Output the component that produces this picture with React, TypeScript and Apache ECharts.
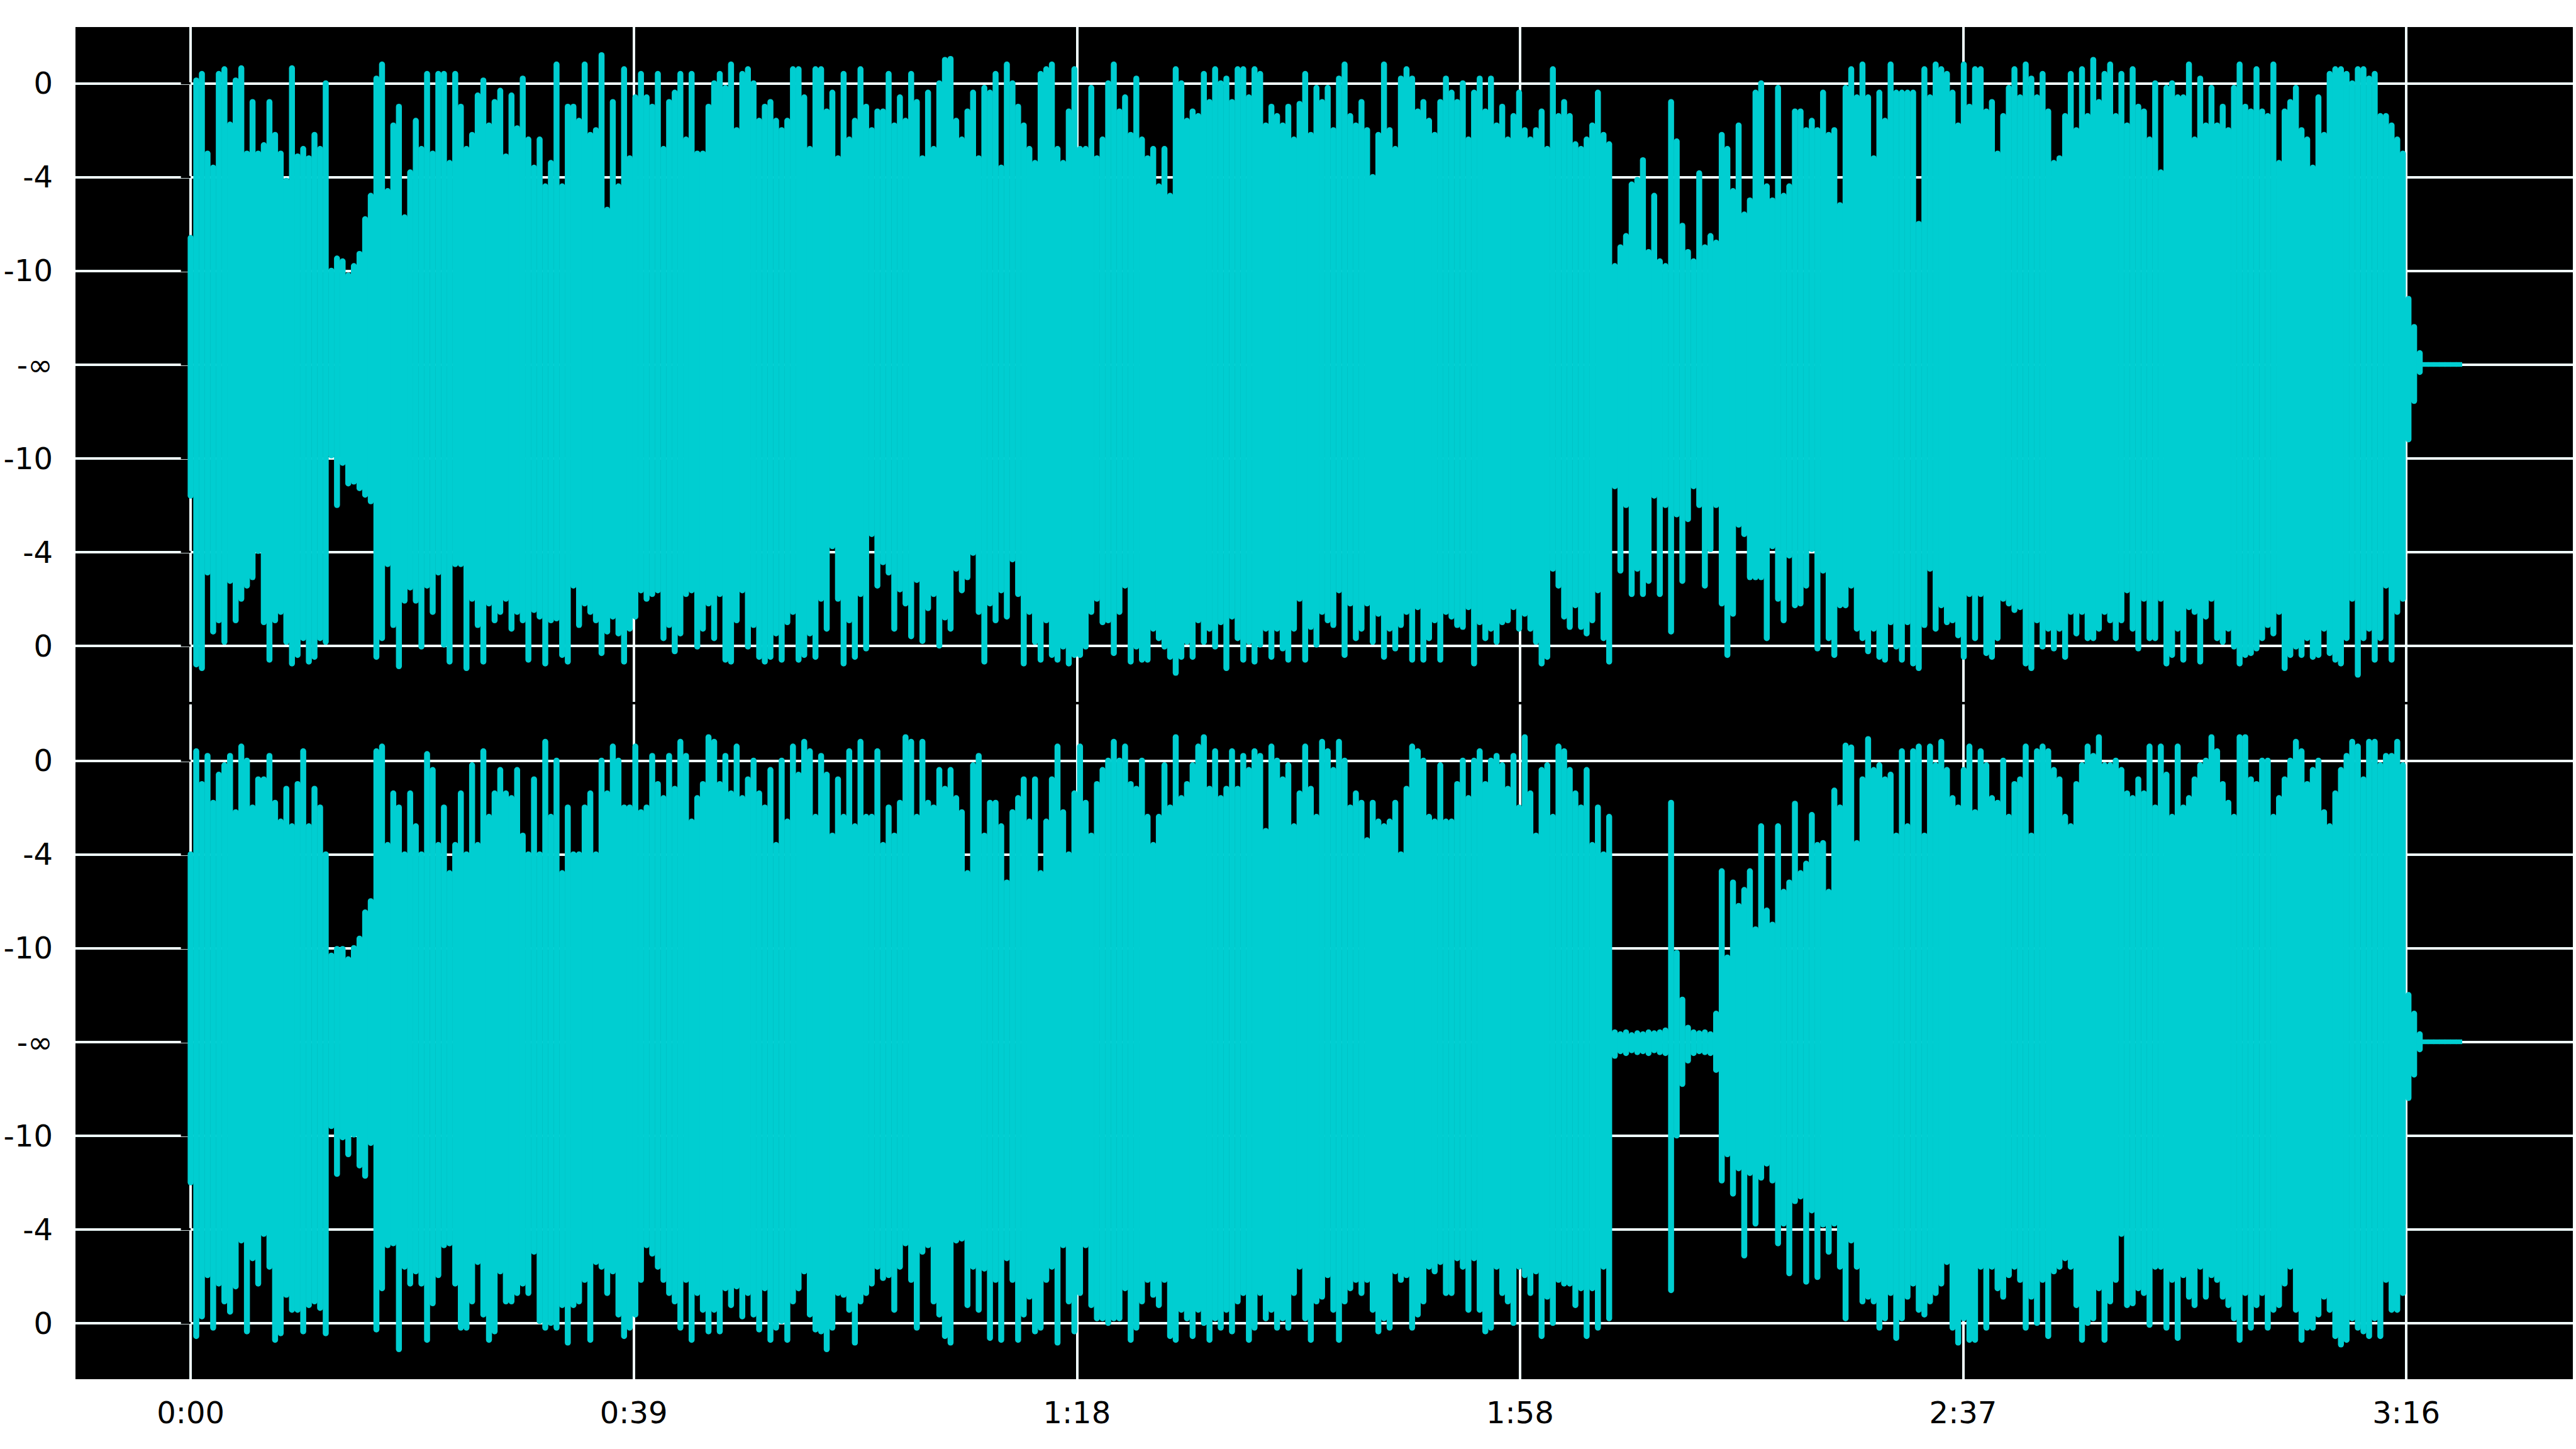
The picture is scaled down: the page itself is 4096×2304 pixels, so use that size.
import React, { useEffect, useRef } from "react";
import * as echarts from "echarts";

// Waveform envelope samples, one every SAMPLE_STEP seconds (values in the
// dB-scaled display units: 3 = "0", 2 = "-4", 1 = "-10", 0 = "-∞").
const SAMPLE_STEP = 0.5;

const CH1_TOP = [
  1.35, 3.03, 3.10, 2.25, 2.10, 3.10, 3.15, 2.56, 3.03, 3.16,
  2.25, 2.80, 2.25, 2.34, 2.80, 2.45, 2.25, 1.96, 3.16, 2.22,
  2.30, 2.20, 2.45, 2.30, 3.00, 1.00, 1.13, 1.10, 0.95, 1.05,
  1.18, 1.55, 1.80, 3.05, 3.20, 1.85, 2.55, 2.75, 1.57, 2.05,
  2.60, 2.30, 3.10, 2.25, 3.10, 3.10, 2.15, 3.10, 2.75, 2.30,
  2.45, 2.87, 3.03, 2.55, 2.80, 2.92, 2.22, 2.87, 2.52, 3.05,
  2.40, 2.10, 2.40, 1.90, 2.15, 3.20, 1.90, 2.75, 2.75, 2.60,
  3.20, 2.45, 2.50, 3.30, 1.65, 2.80, 1.90, 3.15, 2.20, 2.85,
  3.10, 2.85, 2.75, 3.10, 2.30, 2.80, 2.90, 3.10, 2.40, 3.10,
  2.25, 2.25, 2.75, 3.00, 3.10, 2.95, 3.20, 2.50, 3.10, 3.15,
  3.00, 2.60, 2.75, 2.80, 2.60, 2.50, 2.60, 3.15, 3.15, 2.85,
  2.30, 3.15, 3.15, 2.70, 2.90, 2.20, 3.10, 2.40, 2.60, 3.15,
  2.75, 2.50, 2.70, 2.70, 3.10, 2.55, 2.85, 2.60, 3.10, 2.80,
  2.20, 2.90, 2.30, 3.00, 3.25, 3.26, 2.60, 2.40, 2.70, 2.90,
  2.20, 2.95, 2.90, 3.10, 2.10, 3.20, 3.00, 2.75, 2.55, 2.30,
  2.15, 3.10, 3.15, 3.20, 2.30, 2.15, 2.70, 3.15, 2.30, 2.30,
  2.95, 2.20, 2.40, 3.00, 3.20, 2.70, 2.85, 2.45, 3.05, 2.40,
  2.20, 2.30, 1.90, 2.30, 1.80, 3.15, 3.00, 2.60, 2.70, 2.65,
  3.10, 2.80, 3.15, 3.00, 3.05, 2.80, 3.15, 3.15, 2.85, 3.15,
  3.10, 2.55, 2.75, 2.65, 2.55, 2.75, 2.40, 2.78, 3.10, 2.45,
  2.95, 2.80, 2.95, 2.50, 3.05, 3.20, 2.65, 2.55, 2.80, 2.50,
  2.00, 2.45, 3.20, 2.50, 2.30, 3.05, 3.15, 3.05, 2.70, 2.80,
  2.60, 2.45, 2.80, 3.05, 2.90, 2.80, 3.00, 2.40, 2.90, 3.05,
  2.70, 3.05, 2.55, 2.75, 2.40, 2.65, 2.90, 2.50, 2.40, 2.50,
  2.70, 2.30, 3.15, 2.65, 2.80, 2.65, 2.35, 2.30, 2.40, 2.55,
  2.90, 2.45, 2.35, 1.05, 1.25, 1.37, 1.92, 1.97, 2.18, 1.20,
  1.80, 1.10, 1.05, 2.80, 2.38, 1.48, 1.20, 1.10, 2.04, 1.25,
  1.37, 1.30, 2.45, 2.30, 1.85, 2.55, 1.60, 1.75, 2.90, 3.00,
  1.90, 1.75, 2.95, 1.80, 1.90, 2.70, 2.70, 2.50, 2.60, 2.50,
  2.90, 2.45, 2.50, 1.70, 2.95, 3.15, 2.85, 3.20, 2.85, 2.20,
  2.90, 2.60, 3.20, 2.90, 2.90, 2.90, 2.90, 1.50, 3.15, 2.85,
  3.20, 3.15, 3.10, 2.90, 2.55, 3.20, 2.75, 3.15, 3.15, 2.70,
  2.80, 2.25, 2.65, 2.95, 3.15, 2.85, 3.20, 3.05, 2.85, 3.10,
  2.70, 2.15, 2.20, 2.65, 3.10, 2.50, 3.15, 2.65, 3.25, 2.80,
  3.10, 3.20, 2.65, 3.10, 2.55, 3.15, 2.75, 2.70, 2.40, 3.00,
  2.05, 2.95, 3.00, 2.85, 2.85, 3.20, 2.40, 3.05, 2.55, 2.95,
  2.55, 2.75, 2.50, 2.95, 3.20, 2.75, 2.70, 3.15, 2.70, 2.65,
  3.20, 2.15, 2.70, 2.80, 2.95, 2.50, 2.40, 2.10, 2.85, 2.45,
  3.10, 3.15, 3.15, 3.10, 3.00, 3.15, 3.15, 3.05, 3.10, 2.65,
  2.65, 2.55, 2.40, 2.25, 0.70, 0.40, 0.12, 0.025, 0.025, 0.025,
  0.025, 0.025, 0.025, 0.025,
];

const CH1_BOT = [
  -1.40, -3.20, -3.24, -2.22, -2.85, -2.73, -2.96, -2.31, -2.73, -2.50,
  -2.36, -2.27, -1.99, -2.75, -3.15, -2.73, -2.64, -2.96, -3.19, -3.10,
  -2.92, -3.17, -3.12, -2.92, -2.96, -0.97, -1.50, -1.05, -1.27, -1.25,
  -1.32, -1.39, -1.46, -3.12, -2.92, -2.13, -2.78, -3.22, -2.52, -2.38,
  -2.52, -3.01, -2.36, -2.64, -2.22, -2.99, -3.17, -2.13, -2.13, -3.24,
  -2.50, -2.78, -3.17, -2.55, -2.73, -2.64, -2.50, -2.82, -2.64, -2.73,
  -3.15, -2.62, -2.69, -3.19, -2.73, -2.71, -3.10, -3.17, -2.36, -2.78,
  -2.55, -2.64, -2.73, -3.08, -2.85, -2.69, -2.87, -3.17, -2.82, -2.69,
  -2.41, -2.50, -2.45, -2.41, -2.92, -2.78, -3.06, -2.87, -2.45, -2.41,
  -3.01, -2.82, -2.55, -2.92, -2.45, -3.15, -3.17, -2.73, -2.41, -3.01,
  -2.78, -3.12, -3.17, -3.12, -2.87, -3.15, -2.75, -2.64, -3.15, -3.10,
  -2.87, -3.12, -2.50, -2.82, -1.94, -2.50, -3.19, -2.73, -3.12, -2.45,
  -3.03, -1.81, -2.36, -2.11, -2.22, -2.82, -2.40, -2.55, -2.90, -2.30,
  -2.95, -2.60, -2.45, -3.00, -2.70, -2.82, -2.18, -2.41, -2.27, -2.01,
  -2.64, -3.17, -2.55, -2.73, -2.41, -2.69, -2.08, -2.45, -3.19, -2.64,
  -2.96, -3.15, -2.73, -3.10, -3.15, -3.01, -3.19, -3.10, -3.10, -3.01,
  -2.64, -2.50, -2.75, -2.73, -3.08, -2.64, -2.36, -3.17, -3.01, -3.15,
  -3.15, -2.82, -2.92, -3.01, -3.12, -3.29, -3.12, -2.96, -3.12, -2.73,
  -2.96, -2.82, -3.01, -2.75, -3.24, -2.69, -2.92, -3.15, -2.96, -3.17,
  -2.99, -2.82, -3.12, -2.82, -3.03, -3.15, -2.82, -2.50, -3.15, -2.80,
  -2.99, -2.64, -2.73, -2.78, -2.41, -3.10, -2.55, -2.92, -2.82, -2.55,
  -2.96, -2.66, -3.12, -2.82, -3.03, -2.78, -2.64, -3.15, -2.59, -3.15,
  -2.92, -2.73, -3.15, -2.64, -2.69, -2.78, -2.80, -2.59, -3.19, -2.75,
  -2.92, -2.82, -2.96, -2.75, -2.73, -2.59, -2.82, -2.66, -2.82, -2.96,
  -3.19, -3.12, -2.18, -2.36, -2.69, -2.80, -2.57, -2.80, -2.87, -2.73,
  -2.41, -2.92, -3.17, -1.30, -2.20, -1.50, -2.45, -2.18, -2.45, -2.31,
  -1.40, -2.45, -1.50, -2.85, -1.60, -2.31, -1.65, -1.30, -1.50, -2.36,
  -1.97, -1.50, -2.55, -3.10, -2.66, -1.71, -1.81, -2.27, -2.27, -2.27,
  -2.92, -1.94, -2.50, -2.73, -2.04, -2.57, -2.55, -2.36, -1.97, -3.03,
  -2.20, -2.92, -3.10, -2.57, -2.57, -2.36, -2.82, -2.92, -3.06, -2.82,
  -3.12, -3.15, -2.75, -3.01, -3.15, -2.75, -3.19, -3.24, -2.78, -2.18,
  -2.82, -2.57, -2.75, -2.73, -2.89, -3.12, -2.45, -2.92, -2.45, -3.08,
  -3.12, -2.92, -2.50, -2.55, -2.62, -2.59, -3.19, -3.24, -2.73, -3.01,
  -2.82, -3.03, -2.82, -3.12, -2.64, -2.87, -2.64, -2.92, -2.92, -2.82,
  -2.64, -2.73, -2.92, -2.73, -2.41, -2.82, -3.03, -2.50, -2.92, -2.92,
  -2.50, -3.19, -3.10, -2.82, -3.15, -2.59, -2.64, -3.17, -2.69, -2.50,
  -2.92, -2.96, -2.82, -3.01, -3.19, -3.10, -3.08, -3.03, -2.92, -2.78,
  -2.87, -2.64, -3.24, -3.10, -3.01, -3.10, -2.92, -3.12, -3.10, -2.82,
  -3.08, -3.15, -3.19, -2.92, -2.50, -3.31, -2.92, -2.82, -3.15, -2.92,
  -2.36, -3.15, -2.64, -2.50, -0.80, -0.39, -0.08, -0.025, -0.025, -0.025,
  -0.025, -0.025, -0.025, -0.025,
];

const CH2_TOP = [
  2.00, 3.10, 2.75, 3.05, 2.55, 2.85, 2.95, 3.05, 2.45, 3.15,
  3.00, 2.50, 2.80, 2.80, 3.05, 2.55, 2.35, 2.70, 2.30, 2.75,
  3.10, 2.30, 2.70, 2.50, 2.00, 0.92, 0.99, 0.99, 0.88, 1.00,
  1.10, 1.38, 1.50, 3.10, 3.15, 2.10, 2.65, 2.50, 2.00, 2.65,
  2.30, 2.00, 3.07, 2.90, 2.10, 2.50, 1.80, 2.10, 2.65, 2.00,
  2.95, 2.10, 3.10, 2.40, 2.65, 2.90, 2.65, 2.60, 2.90, 2.20,
  2.00, 2.80, 2.00, 3.20, 2.40, 3.00, 1.80, 2.50, 2.00, 2.00,
  2.50, 2.65, 2.00, 3.00, 2.65, 3.15, 3.00, 2.50, 2.50, 3.15,
  2.45, 2.50, 3.05, 2.75, 2.60, 3.05, 2.70, 3.20, 3.05, 2.35,
  2.60, 2.75, 3.25, 3.20, 2.75, 3.05, 2.65, 3.15, 2.60, 2.80,
  3.00, 2.65, 2.50, 2.90, 2.10, 3.00, 2.35, 3.15, 2.85, 3.20,
  3.10, 2.40, 3.05, 2.85, 2.20, 2.80, 2.40, 3.10, 2.30, 3.20,
  2.40, 2.40, 3.10, 2.10, 2.50, 2.20, 2.55, 3.25, 3.20, 2.40,
  3.20, 2.55, 2.50, 2.90, 2.70, 2.90, 2.60, 2.45, 1.80, 2.95,
  3.05, 2.20, 2.55, 2.55, 2.30, 1.70, 2.45, 2.60, 2.80, 2.35,
  2.80, 1.80, 2.35, 2.80, 3.15, 2.45, 2.00, 2.65, 3.15, 2.55,
  2.20, 2.75, 2.90, 3.00, 3.20, 3.00, 3.15, 2.75, 2.70, 3.00,
  2.40, 2.10, 2.40, 2.95, 2.50, 3.25, 2.60, 2.75, 2.95, 3.15,
  3.25, 2.70, 3.10, 2.60, 2.70, 3.10, 2.70, 3.05, 2.90, 3.10,
  3.05, 2.25, 3.15, 3.00, 2.80, 2.95, 2.30, 2.65, 3.15, 2.70,
  2.40, 3.20, 3.10, 2.90, 3.20, 3.00, 2.50, 2.65, 2.55, 2.15,
  2.55, 2.35, 2.30, 2.35, 2.55, 2.00, 2.70, 3.15, 3.10, 3.00,
  2.40, 2.35, 2.95, 2.35, 2.35, 2.75, 3.00, 2.60, 3.00, 3.10,
  2.75, 3.00, 3.05, 2.95, 2.70, 3.05, 2.50, 3.25, 2.65, 2.20,
  2.90, 2.95, 2.40, 3.15, 3.10, 2.90, 2.65, 2.50, 2.90, 2.10,
  2.50, 2.00, 2.40, 0.10, 0.08, 0.10, 0.07, 0.09, 0.08, 0.10,
  0.09, 0.10, 0.12, 2.55, 0.95, 0.45, 0.15, 0.10, 0.09, 0.10,
  0.08, 0.30, 1.82, 0.90, 1.70, 1.45, 1.62, 1.82, 1.20, 2.30,
  1.40, 1.25, 2.30, 1.60, 1.70, 2.54, 1.80, 1.90, 2.42, 2.10,
  2.12, 1.60, 2.68, 2.50, 3.16, 3.14, 2.12, 2.80, 3.23, 2.90,
  2.95, 2.80, 2.85, 2.20, 3.10, 2.30, 3.10, 3.15, 2.20, 3.15,
  2.95, 3.20, 2.90, 2.60, 2.50, 2.90, 3.15, 2.45, 3.10, 2.95,
  2.60, 2.55, 3.00, 2.40, 2.75, 2.80, 3.15, 2.20, 3.10, 3.15,
  3.10, 2.90, 2.80, 2.40, 2.30, 2.75, 2.95, 3.15, 3.05, 3.25,
  2.95, 2.95, 3.00, 2.90, 2.65, 2.60, 2.80, 2.65, 3.15, 2.50,
  3.15, 2.85, 2.40, 3.15, 2.50, 2.60, 2.80, 2.95, 3.00, 3.25,
  3.10, 2.75, 2.55, 2.40, 3.25, 3.25, 2.80, 2.75, 3.00, 3.00,
  2.40, 2.60, 2.80, 3.00, 3.20, 3.10, 2.75, 2.90, 3.00, 2.45,
  2.30, 2.65, 2.90, 3.05, 3.20, 3.15, 2.80, 3.20, 3.20, 2.95,
  3.05, 3.05, 3.20, 2.95, 0.50, 0.30, 0.08, 0.025, 0.025, 0.025,
  0.025, 0.025, 0.025, 0.025,
];

const CH2_BOT = [
  -1.50, -3.14, -2.93, -2.49, -3.05, -2.58, -2.77, -2.88, -2.61, -2.12,
  -3.09, -2.31, -2.58, -2.05, -2.40, -3.18, -3.11, -2.70, -2.86, -2.86,
  -3.09, -2.81, -2.77, -2.84, -3.11, -0.90, -1.41, -1.02, -1.20, -0.99,
  -1.32, -1.43, -1.08, -3.07, -2.63, -2.17, -2.15, -3.28, -2.40, -2.58,
  -2.45, -2.58, -3.18, -2.79, -2.49, -2.17, -2.15, -2.58, -3.05, -3.05,
  -2.77, -2.35, -2.91, -3.18, -3.09, -2.45, -2.77, -2.77, -2.68, -2.58,
  -2.68, -2.24, -2.98, -3.05, -3.00, -3.05, -2.81, -3.21, -2.81, -2.77,
  -2.54, -3.18, -2.35, -2.40, -2.68, -2.45, -2.91, -3.14, -3.05, -2.91,
  -2.54, -2.17, -2.26, -2.40, -2.54, -2.68, -2.77, -3.05, -2.54, -3.18,
  -2.68, -2.86, -3.09, -2.86, -3.09, -2.63, -2.81, -2.61, -2.93, -2.68,
  -2.91, -3.07, -2.63, -3.18, -3.05, -2.98, -3.18, -2.77, -2.63, -2.45,
  -2.91, -3.07, -3.09, -3.28, -3.05, -2.68, -2.70, -2.86, -3.21, -2.77,
  -2.68, -2.58, -2.40, -2.52, -2.49, -2.86, -2.40, -2.15, -2.54, -3.05,
  -2.24, -2.17, -2.77, -2.91, -3.14, -3.21, -2.12, -2.10, -2.81, -2.40,
  -2.86, -2.42, -3.16, -2.54, -3.18, -2.31, -2.54, -3.18, -2.91, -2.72,
  -3.09, -3.05, -2.54, -2.40, -3.21, -2.17, -2.77, -3.09, -2.68, -2.17,
  -2.81, -2.95, -2.95, -3.00, -2.95, -2.95, -2.63, -3.18, -3.05, -2.77,
  -2.54, -2.70, -2.81, -2.54, -3.14, -3.18, -2.86, -2.95, -3.14, -2.86,
  -3.00, -3.18, -2.95, -3.05, -2.86, -3.09, -2.77, -2.68, -3.18, -3.05,
  -2.68, -2.95, -2.86, -3.05, -2.95, -3.05, -2.68, -2.40, -2.95, -3.18,
  -2.77, -2.72, -2.49, -2.86, -3.18, -2.77, -2.63, -2.54, -2.68, -2.54,
  -2.86, -3.09, -2.95, -3.05, -2.45, -2.54, -2.49, -3.05, -2.91, -2.77,
  -2.40, -2.45, -2.35, -2.68, -2.68, -2.31, -2.40, -2.86, -2.31, -2.86,
  -3.09, -3.05, -2.40, -2.68, -2.77, -3.00, -2.40, -2.49, -2.68, -2.45,
  -3.14, -2.72, -3.00, -2.54, -2.58, -2.58, -2.81, -2.63, -3.14, -2.63,
  -3.05, -2.40, -2.95, -0.15, -0.10, -0.12, -0.09, -0.11, -0.10, -0.12,
  -0.09, -0.11, -0.12, -2.65, -1.00, -0.45, -0.20, -0.12, -0.10, -0.11,
  -0.12, -0.30, -1.48, -1.20, -1.62, -1.35, -2.28, -1.40, -1.94, -1.45,
  -1.30, -1.48, -2.15, -1.94, -2.47, -1.70, -1.65, -2.56, -1.80, -2.51,
  -1.95, -2.24, -1.94, -2.40, -2.95, -2.12, -2.40, -2.77, -2.72, -2.77,
  -3.05, -2.95, -2.68, -3.16, -2.95, -2.72, -2.58, -2.86, -2.91, -2.77,
  -2.68, -2.58, -2.35, -3.05, -3.21, -2.95, -3.18, -3.18, -2.40, -3.05,
  -2.40, -2.63, -2.72, -2.49, -2.40, -2.54, -3.05, -2.72, -3.00, -2.54,
  -3.14, -2.45, -2.40, -2.31, -2.40, -2.81, -3.18, -3.00, -2.95, -2.63,
  -3.18, -2.77, -2.54, -2.05, -2.81, -2.79, -2.63, -2.68, -3.02, -2.40,
  -2.40, -3.05, -2.54, -3.16, -2.49, -2.72, -2.81, -2.40, -2.72, -2.49,
  -2.54, -2.72, -2.81, -2.95, -3.18, -2.68, -3.05, -2.81, -2.68, -3.05,
  -2.86, -2.81, -2.58, -2.40, -2.86, -3.18, -3.05, -3.05, -2.91, -2.72,
  -2.86, -3.14, -3.23, -3.18, -2.95, -3.05, -3.09, -3.14, -2.95, -3.14,
  -2.54, -2.86, -2.86, -2.68, -0.60, -0.35, -0.08, -0.025, -0.025, -0.025,
  -0.025, -0.025, -0.025, -0.025,
];

const X_TICKS = [0, 39.36, 78.72, 118.08, 157.44, 196.8];
const X_LABELS = ["0:00", "0:39", "1:18", "1:58", "2:37", "3:16"];
const Y_TICKS = [3, 2, 1, 0, -1, -2, -3];
const Y_LABELS = ["0", "-4", "-10", "-∞", "-10", "-4", "0"];

const X_MIN = -10.23;
const X_MAX = 211.6;
const Y_MIN = -3.6;
const Y_MAX = 3.6;

const WAVE_COLOR = "#00ced1";
const GRID_COLOR = "#f0ffff";
const FONT = "DejaVu Sans";

const PLOT_LEFT = 120;
const PLOT_WIDTH = 3971;
const GRID_TOPS = [43, 1120];
const GRID_HEIGHT = 1073;

function labelFor(ticks: number[], labels: string[], v: number): string {
  for (let i = 0; i < ticks.length; i++) {
    if (Math.abs(ticks[i] - v) < 1e-6) return labels[i];
  }
  return "";
}

function waveSeries(top: number[], bot: number[], idx: number) {
  const n = Math.min(top.length, bot.length);
  const data: number[][] = [];
  for (let i = 0; i < n; i++) data.push([i * SAMPLE_STEP, top[i], bot[i]]);
  return {
    type: "custom",
    xAxisIndex: idx,
    yAxisIndex: idx,
    silent: true,
    clip: true,
    dimensions: ["t", "top", "bot"],
    encode: { x: 0, y: [1, 2] },
    data,
    renderItem: (_params: any, api: any) => {
      const t = api.value(0);
      const hi = api.value(1);
      const lo = api.value(2);
      const a = api.coord([t, hi]);
      const b = api.coord([t, lo]);
      const w = api.size([SAMPLE_STEP, 0])[0] * 1.06;
      const flat = hi - lo < 0.1;
      return {
        type: "line",
        shape: { x1: a[0], y1: a[1], x2: b[0], y2: b[1] },
        style: {
          stroke: WAVE_COLOR,
          lineWidth: flat ? w * 1.02 : w,
          lineCap: flat ? "butt" : "round",
          fill: null,
        },
      };
    },
  };
}

export default function App() {
  const ref = useRef<HTMLDivElement>(null);

  useEffect(() => {
    if (!ref.current) return;
    const chart = echarts.init(ref.current, undefined, { renderer: "svg" });

    const xAxis = [0, 1].map((idx) => ({
      type: "value",
      gridIndex: idx,
      min: X_MIN,
      max: X_MAX,
      axisLine: { show: false },
      axisTick: {
        show: idx === 1,
        customValues: X_TICKS,
        length: 15,
        lineStyle: { color: "#000", width: 3.3 },
      },
      axisLabel: {
        show: idx === 1,
        customValues: X_TICKS,
        formatter: (v: number) => labelFor(X_TICKS, X_LABELS, v),
        color: "#000",
        fontSize: 48,
        fontFamily: FONT,
        margin: 29,
      },
      splitLine: { show: true, lineStyle: { color: GRID_COLOR, width: 4 } },
    }));

    const yAxis = [0, 1].map((idx) => ({
      type: "value",
      gridIndex: idx,
      min: Y_MIN,
      max: Y_MAX,
      axisLine: { show: false },
      axisTick: {
        show: true,
        customValues: Y_TICKS,
        length: 15.5,
        lineStyle: { color: "#000", width: 3.3 },
      },
      axisLabel: {
        customValues: Y_TICKS,
        formatter: (v: number) => labelFor(Y_TICKS, Y_LABELS, v),
        color: "#000",
        fontSize: 48,
        fontFamily: FONT,
        margin: 36,
      },
      splitLine: { show: true, lineStyle: { color: GRID_COLOR, width: 4 } },
    }));

    chart.setOption({
      animation: false,
      backgroundColor: "#ffffff",
      textStyle: { fontFamily: FONT },
      graphic: [
        {
          type: "rect",
          z: -10,
          silent: true,
          shape: {
            x: PLOT_LEFT,
            y: GRID_TOPS[0],
            width: PLOT_WIDTH,
            height: GRID_TOPS[1] + GRID_HEIGHT - GRID_TOPS[0],
          },
          style: { fill: "#000000" },
        },
      ],
      grid: GRID_TOPS.map((top) => ({
        left: PLOT_LEFT,
        top,
        width: PLOT_WIDTH,
        height: GRID_HEIGHT,
        show: false,
      })),
      xAxis,
      yAxis,
      series: [waveSeries(CH1_TOP, CH1_BOT, 0), waveSeries(CH2_TOP, CH2_BOT, 1)],
    });

    return () => chart.dispose();
  }, []);

  return (
    <div
      ref={ref}
      style={{ position: "fixed", left: 0, top: 0, width: "4096px", height: "2304px", background: "#fff" }}
    />
  );
}
